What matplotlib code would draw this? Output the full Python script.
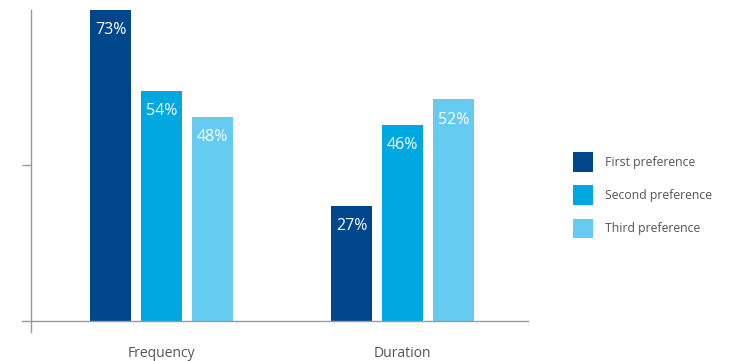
import matplotlib.pyplot as plt
from matplotlib.patches import Patch

plt.rcParams['font.family'] = ['Open Sans', 'DejaVu Sans']

categories = ["Frequency", "Duration"]
series     = ["First preference", "Second preference", "Third preference"]
values     = [
    [73, 27],
    [54, 46],
    [48, 52],
]
colors     = ["#00468b", "#00a8e1", "#66cbf0"]

W, H, DPI = 733, 361, 100
fig = plt.figure(figsize=(W / DPI, H / DPI), dpi=DPI)

# axes box in pixels: left 22, right 528, top 10, bottom 332
ax = fig.add_axes([22 / W, 1 - 332 / H, (528 - 22) / W, (332 - 10) / H])

pitch = 51 / 241
width = 41 / 241
for i, (name, vals) in enumerate(zip(series, values)):
    xs = [c + (i - 1) * pitch for c in range(len(categories))]
    bars = ax.bar(xs, vals, width=width, color=colors[i], label=name, zorder=2)
    for b, v in zip(bars, vals):
        ax.text(b.get_x() + b.get_width() / 2, v - 2.9, f"{v}%",
                ha="center", va="top", color="white", fontsize=11.5)

ax.set_xlim((22 - 161.5) / 241, (528 - 161.5) / 241)
ymax = max(max(v) for v in values)
ax.set_ylim(-11 / 4.26, ymax)

axis_x = (31 - 161.5) / 241
for s in ["top", "right"]:
    ax.spines[s].set_visible(False)
ax.spines["left"].set_position(("data", axis_x))
ax.spines["bottom"].set_position(("data", 0))
for s in ["left", "bottom"]:
    ax.spines[s].set_color("#9a9a9a")
    ax.spines[s].set_linewidth(1.0)

ax.set_yticks([ymax / 2])
ax.set_yticklabels([])
ax.tick_params(axis="y", direction="out", length=6.5, color="#9a9a9a", width=1.0)

ax.set_xticks(range(len(categories)))
ax.set_xticklabels(categories, fontsize=10, color="#555555")
ax.tick_params(axis="x", length=0, pad=18)

handles = [Patch(facecolor=c, edgecolor="none") for c in colors]
fig.legend(handles, series, loc="upper left", bbox_to_anchor=(562 / W, 1 - 141 / H),
           frameon=False, fontsize=8.8, handlelength=1.6, handleheight=2.08,
           labelspacing=1.13, handletextpad=1.0, labelcolor="#555555")

fig.savefig("out.png", dpi=DPI)
